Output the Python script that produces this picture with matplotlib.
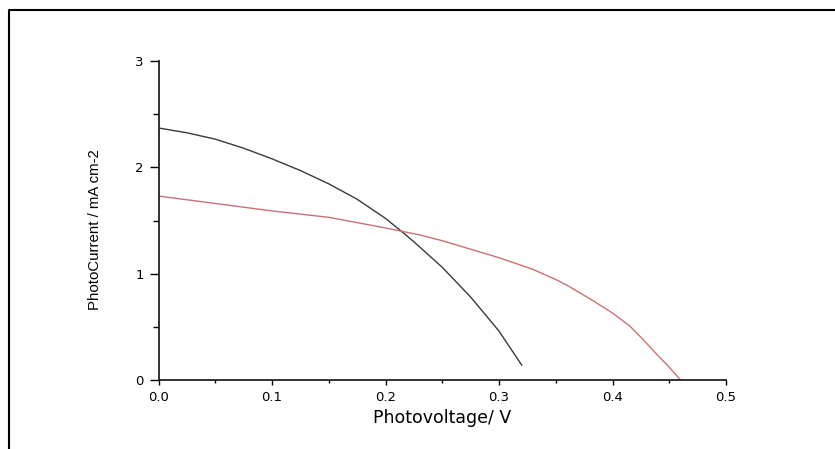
import matplotlib
matplotlib.use("Agg")
import matplotlib.pyplot as plt
from matplotlib.lines import Line2D
from matplotlib.ticker import MultipleLocator

plt.rcParams['font.family'] = ['DejaVu Sans']

# Black curve (sample 1)
v_black = [0.0, 0.025, 0.05, 0.075, 0.1, 0.125, 0.15, 0.175, 0.2, 0.215, 0.225, 0.25, 0.275, 0.3, 0.32]
i_black = [2.37, 2.325, 2.265, 2.18, 2.08, 1.97, 1.845, 1.70, 1.52, 1.39, 1.30, 1.06, 0.78, 0.46, 0.14]

# Red curve (sample 2)
v_red = [0.0, 0.05, 0.1, 0.15, 0.2, 0.23, 0.25, 0.3, 0.33, 0.35, 0.36, 0.38, 0.4, 0.415, 0.427, 0.44, 0.45, 0.46]
i_red = [1.73, 1.66, 1.59, 1.53, 1.43, 1.365, 1.31, 1.15, 1.04, 0.945, 0.89, 0.765, 0.63, 0.51, 0.38, 0.23, 0.12, 0.0]

x_ticks = [0.0, 0.1, 0.2, 0.3, 0.4, 0.5]
x_ticklabels = ['0.0', '0.1', '0.2', '0.3', '0.4', '0.5']
y_ticks = [0, 1, 2, 3]
y_ticklabels = ['0', '1', '2', '3']

W, H = 835, 449
fig = plt.figure(figsize=(W / 100, H / 100), dpi=100)
ax = fig.add_axes([158.5 / W, 1 - 380 / H, (726 - 158.5) / W, (380 - 61) / H])

ax.plot(v_black, i_black, color='#3a3a3a', lw=1.0)
ax.plot(v_red, i_red, color='#cc7070', lw=1.0)

ax.set_xlim(0, 0.5)
ax.set_ylim(0, 3)
ax.set_xticks(x_ticks)
ax.set_xticklabels(x_ticklabels)
ax.set_yticks(y_ticks)
ax.set_yticklabels(y_ticklabels)
ax.xaxis.set_minor_locator(MultipleLocator(0.05))
ax.yaxis.set_minor_locator(MultipleLocator(0.5))

for s in ['top', 'right']:
    ax.spines[s].set_visible(False)
for s in ['left', 'bottom']:
    ax.spines[s].set_linewidth(1.3)
    ax.spines[s].set_color('#222222')

ax.tick_params(axis='x', which='major', direction='out', length=3.6, width=1.0, pad=4.5, labelsize=9.5)
ax.tick_params(axis='x', which='minor', direction='out', length=2.5, width=1.0)
ax.tick_params(axis='y', which='major', direction='out', length=6.5, width=1.0, pad=4.0, labelsize=9.5)
ax.tick_params(axis='y', which='minor', direction='out', length=4.0, width=1.0)

fig.text(442.5 / W, 1 - 423.3 / H, 'Photovoltage/ V', ha='center', va='baseline', fontsize=12.5)
fig.text(95 / W, 1 - 230 / H, 'PhotoCurrent / mA cm-2', ha='center', va='center',
         rotation=90, fontsize=10.8, family=['Liberation Sans', 'DejaVu Sans'])

# outer frame (left and top lines)
frame = Line2D([9 / W, 9 / W, 1.0], [0.0, 1 - 9.5 / H, 1 - 9.5 / H],
               transform=fig.transFigure, color='black', lw=1.5)
fig.add_artist(frame)

fig.savefig('out.png', dpi=100)
